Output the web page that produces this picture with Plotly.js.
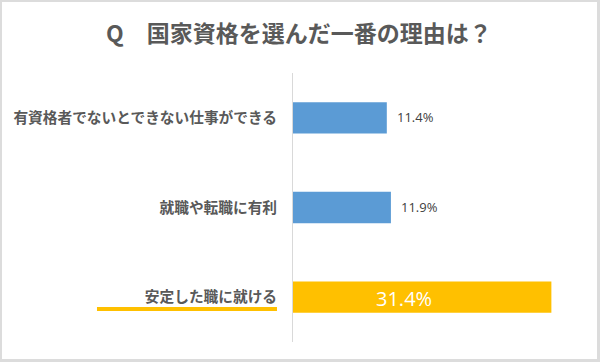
<!DOCTYPE html>
<html>
<head>
<meta charset="utf-8">
<script src="https://cdn.plot.ly/plotly-3.0.1.min.js"></script>
<style>
html,body{margin:0;padding:0;background:#fff;}
#wrap{position:relative;width:600px;height:362px;}
#chart{position:absolute;left:0;top:0;width:600px;height:362px;}
#frame{position:absolute;left:0;top:0;width:600px;height:362px;box-sizing:border-box;border:2px solid #dcdcdc;border-right-width:3px;border-bottom-width:3px;pointer-events:none;}
</style>
</head>
<body>
<div id="wrap"><div id="chart"></div><div id="frame"></div></div>
<script>
const titleText = "Q　国家資格を選んだ一番の理由は？";
const categories = ["有資格者でないとできない仕事ができる", "就職や転職に有利", "安定した職に就ける"];
const values = [11.4, 11.9, 31.4];
const valueLabels = ["11.4%", "11.9%", "31.4%"];
const barColors = ["#5B9BD5", "#5B9BD5", "#FFC000"];
const highlightIndex = 2;

const jp = '"Noto Sans CJK JP", "Noto Sans", sans-serif';

const trace = {
  type: "bar",
  orientation: "h",
  y: categories,
  x: values,
  marker: {color: barColors},
  width: 0.35,
  hoverinfo: "none"
};

const annotations = values.map((v, i) => {
  if (i === highlightIndex) {
    return {x: v / 2, y: categories[i], xref: "x", yref: "y", text: valueLabels[i],
      showarrow: false, xanchor: "center", yanchor: "middle", xshift: -18, yshift: -1,
      font: {family: '"Open Sans", sans-serif', size: 20, color: "#ffffff"}};
  }
  return {x: v, y: categories[i], xref: "x", yref: "y", text: valueLabels[i],
    showarrow: false, xanchor: "left", yanchor: "middle", xshift: 8, yshift: 1,
    font: {family: '"Open Sans", sans-serif', size: 13, color: "#404040"}};
});

const layout = {
  width: 600, height: 362,
  margin: {l: 293, r: 19, t: 73, b: 20},
  paper_bgcolor: "#ffffff", plot_bgcolor: "#ffffff",
  showlegend: false,
  title: {text: titleText, x: 0.498, xanchor: "center", xref: "container", y: 1 - 34/362, yanchor: "middle", yref: "container",
    font: {family: jp, size: 23, color: "#595959", weight: "bold"}},
  xaxis: {range: [0, 35], visible: false, fixedrange: true},
  yaxis: {autorange: "reversed", showline: true, linecolor: "#d9d9d9", linewidth: 1,
    showgrid: false, zeroline: false, ticks: "outside", ticklen: 12, tickcolor: "rgba(0,0,0,0)",
    tickfont: {family: jp, size: 14.7, color: "#595959", weight: "bold"}},
  annotations: annotations,
  shapes: [{type: "line", xref: "paper", yref: "paper", x0: -0.6806, x1: -0.0556, y0: 0.1227, y1: 0.1227,
    line: {color: "#FFC000", width: 4}}]
};

Plotly.newPlot("chart", [trace], layout, {displayModeBar: false, staticPlot: true});
</script>
</body>
</html>
